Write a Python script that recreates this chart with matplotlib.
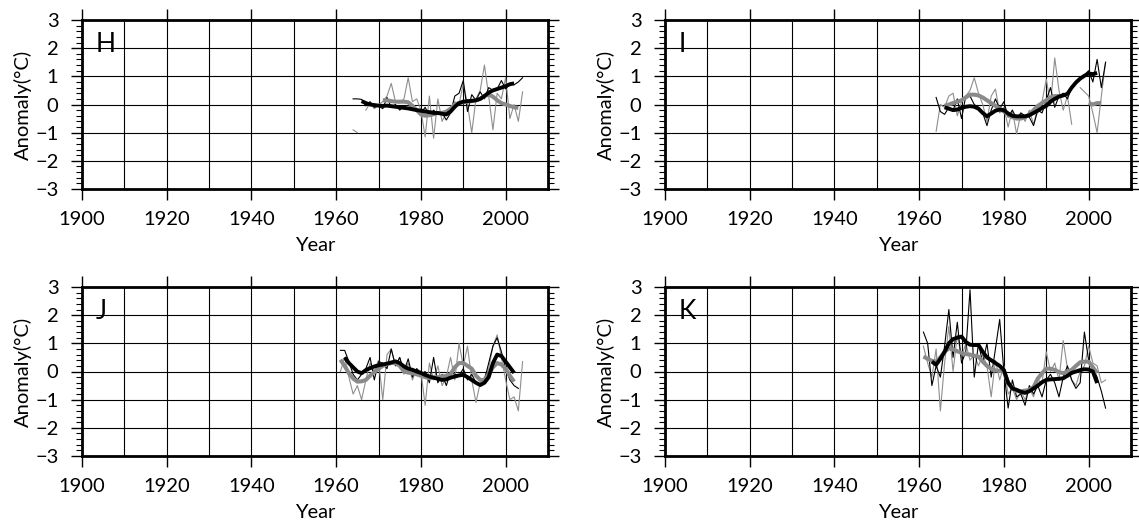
import numpy as np
import matplotlib
matplotlib.use("Agg")
import matplotlib.pyplot as plt
from matplotlib.ticker import MultipleLocator

plt.rcParams['font.family'] = ['Lato', 'DejaVu Sans']

nan = np.nan

# ---- Panel H ----
H_thin_black_start = 1964
H_thin_black = [0.2, 0.2, 0.18, -0.05, 0.1, -0.1, -0.05, -0.15, 0.25, -0.1,
                0.0, -0.2, -0.05, -0.15, 0.0, -0.2, -0.3, -0.1, -0.4, -0.2,
                -0.35, -0.3, -0.55, -0.3, 0.3, 0.4, 0.85, -0.25, 0.35, 0.15,
                0.45, 0.2, 0.6, 0.5, 0.55, 0.85, 0.55, 0.75, 0.7, 0.8, 0.95]
H_thin_gray_start = 1964
H_thin_gray = [-0.9, -1.0, nan, -0.2, 0.05, -0.15, 0.0, 0.1, 0.3, 0.75,
               0.1, 0.05, 0.2, 0.95, 0.1, 0.2, -0.2, -1.15, 0.3, -1.2,
               0.2, -0.6, -0.3, -0.2, 0.1, 0.0, 0.75, 0.0, -1.0, 0.2,
               0.5, 1.4, 0.3, -0.9, 0.4, 0.2, 0.95, -0.5, 0.0, -0.6, 0.45]
H_thick_black_start = 1966
H_thick_black = [0.12, 0.05, 0.0, -0.02, -0.04, -0.05, -0.04, -0.06, -0.08, -0.1,
                 -0.12, -0.14, -0.17, -0.2, -0.22, -0.25, -0.27, -0.3, -0.3, -0.33,
                 -0.35, -0.25, -0.08, 0.05, 0.1, 0.12, 0.13, 0.15, 0.2, 0.3,
                 0.42, 0.5, 0.55, 0.6, 0.65, 0.72, 0.75]
H_thick_gray_start = 1971
H_thick_gray = [0.15, 0.15, 0.12, 0.1, 0.1, 0.1, 0.08, -0.05, -0.2, -0.35,
                -0.4, -0.38, -0.35, -0.3, -0.3, -0.25, -0.15, 0.0, 0.05, 0.08,
                0.1, 0.12, 0.15, 0.2, 0.3, 0.35, 0.28, 0.15, 0.05, 0.0,
                -0.05, -0.1, -0.12]

# ---- Panel I ----
I_thin_black_start = 1964
I_thin_black = [0.25, -0.25, -0.35, -0.1, -0.2, 0.2, -0.5, 0.3, 0.3, 0.0,
                -0.1, -0.3, -0.75, -0.2, 0.2, -0.15, 0.1, -0.45, -0.2, -0.5,
                -0.3, -0.4, -0.45, -0.75, -0.2, -0.3, 0.15, 0.6, -0.1, 0.3,
                0.4, 0.2, 0.6, 0.75, 0.9, 1.05, 1.2, 0.8, 1.6, 0.6, 1.5]
I_thin_gray_start = 1964
I_thin_gray = [-0.95, 0.0, -0.1, 0.3, 0.4, -0.4, 0.1, 0.3, 0.5, 0.95,
               0.4, 0.0, -0.6, 0.3, 0.55, -0.3, -0.1, -0.8, -0.2, -1.05,
               -0.3, -0.6, -0.2, -0.7, -0.1, 0.1, 0.9, 0.0, 1.65, 0.5,
               -0.2, 0.3, -0.7, nan, 0.6, 0.45, 0.3, -0.3, -1.0, 0.3, 1.5]
I_thick_black_start = 1966
I_thick_black = [-0.1, -0.15, -0.2, -0.18, -0.12, -0.08, -0.06, -0.08, -0.15, -0.3,
                 -0.42, -0.32, -0.22, -0.18, -0.2, -0.32, -0.4, -0.42, -0.42, -0.42,
                 -0.38, -0.3, -0.22, -0.12, -0.05, 0.1, 0.2, 0.28, 0.32, 0.38,
                 0.6, 0.78, 0.92, 1.02, 1.1, 1.08, 1.12]
I_thick_gray_start = 1966
I_thick_gray = [-0.05, 0.0, 0.05, 0.1, 0.15, 0.25, 0.35, 0.35, 0.32, 0.25,
                0.15, 0.05, -0.05, -0.15, -0.25, -0.35, -0.45, -0.5, -0.5, -0.45,
                -0.35, -0.2, -0.05, 0.05, 0.15, 0.25, 0.3, 0.3, nan, nan,
                nan, nan, nan, nan, 0.05, 0.0, 0.05, 0.05]

# ---- Panel J ----
J_thin_black_start = 1961
J_thin_black = [0.75, 0.75, 0.35, -0.1, -0.3, -0.1, 0.1, 0.5, -0.3, 0.35,
                0.3, 0.1, 0.8, 0.2, 0.5, 0.0, 0.45, -0.2, 0.1, -0.1,
                0.0, -0.4, 0.5, -0.4, -0.1, -0.5, 0.0, -0.1, -0.15, 0.1,
                -0.3, -0.1, -0.4, -0.5, -0.3, 0.3, 0.9, 1.2, 0.7, 0.1,
                -0.3, -0.5, -0.6]
J_thin_gray_start = 1961
J_thin_gray = [0.0, 0.5, -0.2, -0.8, -0.5, -1.0, -0.3, 0.3, 0.0, 0.4,
               -1.0, 0.6, 0.8, 0.2, 0.5, -0.1, 0.3, -0.3, 0.1, 0.0,
               -1.2, 0.3, -0.3, 0.2, -0.5, -0.2, 0.5, -0.3, 1.0, 0.2,
               0.9, -0.3, -1.1, -0.4, -0.2, 0.1, 0.9, 1.3, 0.5, -0.3,
               -1.0, -0.9, -1.4, 0.35]
J_thick_black_start = 1962
J_thick_black = [0.5, 0.3, 0.15, 0.0, -0.06, 0.05, 0.12, 0.18, 0.22, 0.25,
                 0.28, 0.32, 0.36, 0.3, 0.18, 0.1, 0.06, 0.0, -0.05, -0.12,
                 -0.18, -0.22, -0.26, -0.3, -0.28, -0.22, -0.18, -0.14, -0.12, -0.2,
                 -0.3, -0.4, -0.48, -0.4, -0.2, 0.3, 0.6, 0.55, 0.35, 0.15,
                 -0.05]
J_thick_gray_start = 1961
J_thick_gray = [0.42, 0.2, -0.06, -0.25, -0.36, -0.35, -0.3, -0.15, -0.02, 0.1,
                0.2, 0.26, 0.3, 0.3, 0.2, 0.0, -0.04, -0.06, -0.1, -0.15,
                -0.2, -0.24, -0.22, -0.2, -0.18, -0.15, -0.1, 0.15, 0.3, 0.3,
                0.2, 0.1, -0.15, -0.3, -0.3, -0.1, 0.15, 0.3, 0.25, 0.1,
                -0.15, -0.36]

# ---- Panel K ----
K_thin_black_start = 1961
K_thin_black = [1.4, 1.0, -0.5, 0.2, -0.2, 0.9, 2.2, 0.5, 1.75, 0.3,
                0.7, 2.9, -0.2, 1.0, 0.3, 1.0, -0.2, 0.8, 1.85, 0.0,
                -1.3, -0.3, -0.9, -0.8, -1.2, -0.5, -0.8, -0.5, -0.9, -0.3,
                -0.1, -0.4, -0.9, -0.2, 0.2, -0.3, -0.6, -0.4, 1.4, 0.4,
                0.1, -0.2, -0.7, -1.3]
K_thin_gray_start = 1961
K_thin_gray = [0.9, 0.3, -0.2, 0.8, -1.4, 0.3, 1.6, 0.0, 1.3, 0.5,
               1.0, 0.4, 0.6, 0.2, 0.6, 0.2, -0.9, 0.4, -0.3, 0.2,
               -0.8, -0.6, -1.0, -0.7, -1.0, -0.6, -0.9, -0.3, -0.4, 0.7,
               0.0, 0.3, -0.3, 1.1, 0.1, -0.3, -0.5, 0.0, 0.2, 0.9,
               0.3, 0.2, -0.4, -0.3]
K_thick_black_start = 1963
K_thick_black = [0.35, 0.24, 0.45, 0.7, 1.0, 1.15, 1.2, 1.24, 1.05, 0.95,
                 0.94, 0.94, 0.7, 0.5, 0.4, 0.3, 0.2, 0.05, -0.4, -0.6,
                 -0.65, -0.72, -0.76, -0.7, -0.6, -0.5, -0.38, -0.3, -0.28, -0.27,
                 -0.26, -0.24, -0.15, -0.05, 0.0, 0.05, 0.08, 0.07, 0.0, -0.41]
K_thick_gray_start = 1961
K_thick_gray = [0.53, 0.45, 0.38, 0.35, 0.5, 0.7, 0.82, 0.78, 0.72, 0.66,
                0.62, 0.6, 0.56, 0.53, 0.35, 0.2, 0.1, 0.04, 0.02, 0.0,
                -0.4, -0.6, -0.7, -0.7, -0.68, -0.65, -0.55, -0.25, -0.06, 0.1,
                0.1, 0.06, -0.02, -0.06, 0.0, 0.06, 0.2, 0.33, 0.35, 0.35,
                0.15, -0.06]

panel_labels = ['H', 'I', 'J', 'K']
x_ticks = [1900, 1920, 1940, 1960, 1980, 2000]
y_ticks = [-3, -2, -1, 0, 1, 2, 3]

panels = {
    'H': (H_thin_gray_start, H_thin_gray, H_thin_black_start, H_thin_black,
          H_thick_gray_start, H_thick_gray, H_thick_black_start, H_thick_black),
    'I': (I_thin_gray_start, I_thin_gray, I_thin_black_start, I_thin_black,
          I_thick_gray_start, I_thick_gray, I_thick_black_start, I_thick_black),
    'J': (J_thin_gray_start, J_thin_gray, J_thin_black_start, J_thin_black,
          J_thick_gray_start, J_thick_gray, J_thick_black_start, J_thick_black),
    'K': (K_thin_gray_start, K_thin_gray, K_thin_black_start, K_thin_black,
          K_thick_gray_start, K_thick_gray, K_thick_black_start, K_thick_black),
}

W, H = 1139, 523
fig = plt.figure(figsize=(W / 100, H / 100), dpi=100)

# axes boxes in pixels: left, top, right, bottom
boxes = {
    'H': (82, 20, 548, 189),
    'I': (665, 20, 1131, 189),
    'J': (82, 287, 548, 456),
    'K': (665, 287, 1131, 456),
}


def series(start, vals):
    v = np.asarray(vals, dtype=float)
    return start + np.arange(len(v)), v


for name in panel_labels:
    l, t, r, b = boxes[name]
    ax = fig.add_axes([l / W, 1 - b / H, (r - l) / W, (b - t) / H])
    gs, gv, bs, bv, tgs, tgv, tbs, tbv = panels[name]

    ax.plot(*series(gs, gv), color='#8e8e8e', lw=0.8, zorder=3)
    ax.plot(*series(bs, bv), color='black', lw=0.8, zorder=4)
    ax.plot(*series(tgs, tgv), color='#8a8a8a', lw=2.9, zorder=5,
            solid_capstyle='butt')
    ax.plot(*series(tbs, tbv), color='black', lw=2.8, zorder=6,
            solid_capstyle='butt')

    ax.set_xlim(1900, 2010)
    ax.set_ylim(-3, 3)
    ax.set_xticks(x_ticks)
    ax.set_xticks(np.arange(1910, 2010, 10), minor=True)
    ax.set_yticks(y_ticks)
    ax.yaxis.set_minor_locator(MultipleLocator(0.2))

    ax.xaxis.grid(True, which='both', color='black', lw=0.8)
    ax.yaxis.grid(True, which='major', color='black', lw=0.8)
    ax.set_axisbelow(True)

    ax.tick_params(which='both', direction='out', top=True, right=True,
                   labeltop=False, labelright=False, width=1.0, color='black')
    ax.tick_params(which='major', length=8, labelsize=14.5)
    ax.tick_params(axis='y', which='minor', length=4.5, width=0.8)
    ax.tick_params(axis='x', which='minor', length=0)
    ax.tick_params(axis='y', which='major', pad=9)
    ax.tick_params(axis='x', which='major', pad=8)

    for sp in ax.spines.values():
        sp.set_linewidth(2.0)

    ax.set_xlabel('Year', fontsize=14.5, labelpad=6)
    ax.set_ylabel('Anomaly(°C)', fontsize=14.5, labelpad=2)
    ax.text(0.03, 0.93, name, transform=ax.transAxes, ha='left', va='top',
            fontsize=19, zorder=7)

fig.savefig('out.png', dpi=100)
